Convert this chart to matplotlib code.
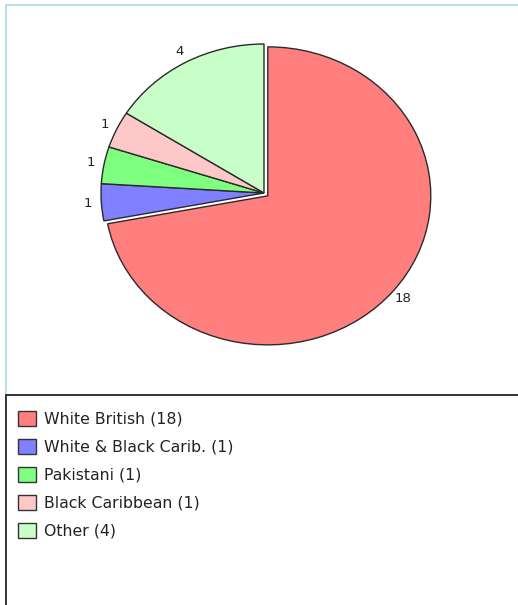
import matplotlib
matplotlib.use("Agg")
import matplotlib.pyplot as plt
from matplotlib.patches import Rectangle, Patch

categories = ["White British", "White & Black Carib.", "Pakistani", "Black Caribbean", "Other"]
values = [18, 1, 1, 1, 4]
colors = ["#FF7F7F", "#7F7FFF", "#7FFF7F", "#FFC8C8", "#C8FFC8"]
explode = [0.03, 0, 0, 0, 0]

W, H = 518, 605
fig = plt.figure(figsize=(W / 100, H / 100), dpi=100)
fig.patch.set_facecolor("white")

# panels
fig.add_artist(Rectangle((5.5 / W, 1 - 394.5 / H), (W + 10) / W, 390 / H,
                         transform=fig.transFigure, fill=False,
                         edgecolor="#A8D8E8", linewidth=1.2, clip_on=False))
fig.add_artist(Rectangle((6 / W, -0.05), (W + 10) / W, 1 - 395 / H + 0.05,
                         transform=fig.transFigure, fill=False,
                         edgecolor="#333333", linewidth=1.4, clip_on=False))

# pie axes (elliptical pie)
cx, cy, rx, ry = 264, 193, 163, 149
aw, ah = 2.5 * rx, 2.5 * ry
ax = fig.add_axes([(cx - aw / 2) / W, (H - cy - ah / 2) / H, aw / W, ah / H])
wedges, texts = ax.pie(values, labels=[str(v) for v in values], colors=colors,
                       explode=explode, startangle=90, counterclock=False,
                       labeldistance=1.08,
                       wedgeprops=dict(edgecolor="#2a2a2a", linewidth=1.0),
                       textprops=dict(fontsize=9.5, color="#222222", family="DejaVu Sans"))
for t in texts:
    t.set_horizontalalignment("center")
    t.set_verticalalignment("center")
ax.set_aspect("auto")
ax.set_xlim(-1.25, 1.25)
ax.set_ylim(-1.25, 1.25)
ax.axis("off")

handles = [Patch(facecolor=c, edgecolor="#333333", linewidth=1.0) for c in colors]
labels = [f"{c} ({v})" for c, v in zip(categories, values)]
leg = fig.legend(handles, labels, loc="upper left",
                 bbox_to_anchor=(18 / W, 1 - 411 / H),
                 frameon=False, borderpad=0, borderaxespad=0,
                 prop=dict(family="DejaVu Sans", size=11.3),
                 handlelength=1.15, handleheight=1.08, handletextpad=0.5,
                 labelspacing=0.78)
for t in leg.get_texts():
    t.set_color("#222222")

fig.savefig("out.png", dpi=100, facecolor="white")
